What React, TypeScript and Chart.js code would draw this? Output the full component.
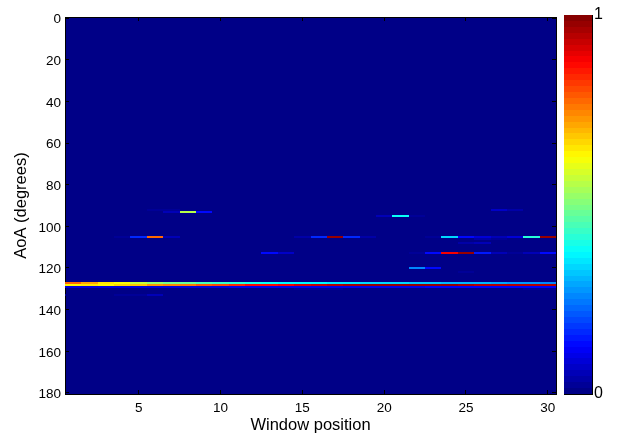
import React, { useEffect, useRef } from "react";
import { Chart, registerables } from "chart.js";

Chart.register(...registerables);

const xTickValues = [5, 10, 15, 20, 25, 30];
const yTickValues = [0, 20, 40, 60, 80, 100, 120, 140, 160, 180];
const colorbarLevels = 64;

// Strong lines: one value per window position 1..30
const aoa127 = [0.78, 0.71, 0.65, 0.62, 0.57, 0.52, 0.49, 0.47, 0.45, 0.43, 0.41, 0.4, 0.38, 0.37, 0.36, 0.36, 0.35, 0.35, 0.34, 0.34, 0.33, 0.32, 0.32, 0.31, 0.3, 0.3, 0.29, 0.28, 0.27, 0.26];
const aoa128 = [0.63, 0.65, 0.63, 0.66, 0.68, 0.72, 0.74, 0.76, 0.79, 0.8, 0.83, 0.86, 0.87, 0.89, 0.91, 0.93, 0.95, 0.96, 0.97, 0.97, 0.98, 0.98, 0.97, 0.97, 0.96, 0.95, 0.95, 0.95, 0.94, 0.94];
const aoa129 = [0.09, 0.09, 0.09, 0.09, 0.09, 0.09, 0.09, 0.09, 0.09, 0.09, 0.1, 0.1, 0.1, 0.1, 0.1, 0.1, 0.1, 0.1, 0.1, 0.1, 0.1, 0.1, 0.12, 0.12, 0.12, 0.12, 0.12, 0.12, 0.12, 0.12];

// Sparse rows: [window position, value]
const aoa92 = [[6, 0.02], [7, 0.02], [27, 0.07], [28, 0.04]];
const aoa93 = [[7, 0.05], [8, 0.56], [9, 0.13]];
const aoa95 = [[20, 0.05], [21, 0.39], [22, 0.02]];
const aoa105 = [[4, 0.02], [5, 0.17], [6, 0.77], [7, 0.05], [15, 0.04], [16, 0.17], [17, 0.98], [18, 0.16], [19, 0.04], [23, 0.03], [24, 0.33], [25, 0.13], [26, 0.08], [27, 0.05], [28, 0.08], [29, 0.41], [30, 0.98]];
const aoa106 = [[26, 0.04], [27, 0.03]];
const aoa108 = [[25, 0.04], [26, 0.05]];
const aoa113 = [[13, 0.14], [14, 0.07], [22, 0.03], [23, 0.13], [24, 0.88], [25, 0.98], [26, 0.15], [27, 0.06], [28, 0.03], [29, 0.05], [30, 0.13]];
const aoa120 = [[22, 0.26], [23, 0.13]];
const aoa122 = [[25, 0.03]];
const aoa130 = [[15, 0.03], [16, 0.03], [17, 0.02], [29, 0.03], [30, 0.03]];
const aoa133 = [[5, 0.03], [6, 0.05], [1, 0.01], [2, 0.01], [3, 0.01], [4, 0.02], [7, 0.01], [8, 0.01]];

const sparseRows: [number, number[][]][] = [
  [92, aoa92], [93, aoa93], [95, aoa95], [105, aoa105], [106, aoa106], [108, aoa108],
  [113, aoa113], [120, aoa120], [122, aoa122], [130, aoa130], [133, aoa133],
];
const lineRows: [number, number[]][] = [[127, aoa127], [128, aoa128], [129, aoa129]];

function jet(v: number): string {
  const level = Math.min(colorbarLevels - 1, Math.max(0, Math.floor(v * colorbarLevels)));
  const t = (level + 0.5) / colorbarLevels;
  const f = (c: number) => Math.round(255 * Math.max(0, Math.min(1, 1.5 - Math.abs(4 * t - c))));
  return `rgb(${f(3)},${f(2)},${f(1)})`;
}

const snap = (v: number) => Math.round(Math.round(v * 1000) / 1000);

const snapBars = {
  id: "snapBars",
  beforeDatasetDraw(chart: any, args: any) {
    for (const el of chart.getDatasetMeta(args.index).data) {
      const l = snap(el.x - el.width / 2);
      const r = snap(el.x + el.width / 2);
      el.x = (l + r) / 2;
      el.width = r - l;
      el.y = snap(el.y);
      el.base = snap(el.base);
    }
  },
};

const plotBackground = {
  id: "plotBackground",
  beforeDraw(chart: any) {
    const { ctx, chartArea: a } = chart;
    ctx.save();
    ctx.fillStyle = jet(0);
    ctx.fillRect(a.left, a.top, a.width, a.height);
    ctx.restore();
  },
};

const font = { family: "'Liberation Sans', Arial, sans-serif", size: 13.5 };
const titleFont = { family: "'Liberation Sans', Arial, sans-serif", size: 16.5, lineHeight: 0.9 };
const yTitleFont = { family: "'Liberation Sans', Arial, sans-serif", size: 16.5 };

export default function App() {
  const mainRef = useRef<HTMLCanvasElement>(null);
  const barRef = useRef<HTMLCanvasElement>(null);

  useEffect(() => {
    const cells: { x: number; y: number[] }[] = [];
    const colors: string[] = [];
    const add = (col: number, row: number, v: number) => {
      cells.push({ x: col, y: [row - 0.5, row + 0.5] });
      colors.push(jet(v));
    };
    sparseRows.forEach(([row, list]) => list.forEach(([col, v]) => add(col, row, v)));
    lineRows.forEach(([row, vals]) => vals.forEach((v, i) => add(i + 1, row, v)));

    const tickGrid = { drawOnChartArea: false, drawTicks: true, tickLength: -4, color: "#000", lineWidth: 1, offset: false };
    const border = { color: "#000", width: 1 };

    const main = new Chart(mainRef.current!, {
      type: "bar",
      data: {
        datasets: [{
          data: cells as any,
          backgroundColor: colors,
          barPercentage: 1,
          categoryPercentage: 1,
          inflateAmount: 0,
          borderWidth: 0,
        } as any],
      },
      plugins: [plotBackground, snapBars],
      options: {
        animation: false,
        responsive: false,
        maintainAspectRatio: false,
        layout: { padding: { top: 17, right: 66, left: 0, bottom: 0 } },
        plugins: { legend: { display: false }, tooltip: { enabled: false } },
        scales: {
          x: {
            type: "linear", position: "bottom", min: 0.5, max: 30.5, offset: false,
            afterBuildTicks: (s: any) => { s.ticks = xTickValues.map((value) => ({ value })); },
            afterFit: (s: any) => { s.height = 39; },
            grid: tickGrid, border,
            ticks: { font, color: "#000", padding: 10, maxRotation: 0, autoSkip: false },
            title: { display: true, text: "Window position", font: titleFont, color: "#000", padding: 0 },
          },
          y: {
            type: "linear", position: "left", reverse: true, min: -0.5, max: 180.5,
            afterBuildTicks: (s: any) => { s.ticks = yTickValues.map((value) => ({ value })); },
            afterFit: (s: any) => { s.width = 65; },
            grid: tickGrid, border,
            ticks: { font, color: "#000", padding: 8, autoSkip: false, labelOffset: 1.5 },
            title: { display: true, text: "AoA (degrees)", font: yTitleFont, color: "#000", padding: { top: 12, bottom: 0 } },
          },
          xTop: {
            type: "linear", position: "top", min: 0.5, max: 30.5, offset: false,
            afterBuildTicks: (s: any) => { s.ticks = xTickValues.map((value) => ({ value })); },
            afterFit: (s: any) => { s.height = 0; },
            grid: tickGrid, border, ticks: { display: false },
          },
          yRight: {
            type: "linear", position: "right", reverse: true, min: -0.5, max: 180.5,
            afterBuildTicks: (s: any) => { s.ticks = yTickValues.map((value) => ({ value })); },
            afterFit: (s: any) => { s.width = 0; },
            grid: tickGrid, border, ticks: { display: false },
          },
        } as any,
      },
    });

    const levels = Array.from({ length: colorbarLevels }, (_, i) => i);
    const bar = new Chart(barRef.current!, {
      type: "bar",
      data: {
        labels: ["jet"],
        datasets: levels.map((i) => ({
          data: [[i / colorbarLevels, (i + 1) / colorbarLevels]] as any,
          backgroundColor: jet((i + 0.5) / colorbarLevels),
          barPercentage: 1,
          categoryPercentage: 1,
          inflateAmount: 0,
          grouped: false,
          borderWidth: 0,
        })) as any,
      },
      plugins: [snapBars],
      options: {
        animation: false,
        responsive: false,
        maintainAspectRatio: false,
        layout: { padding: { top: 15, left: 6, right: 0, bottom: 39 } },
        plugins: { legend: { display: false }, tooltip: { enabled: false } },
        scales: {
          x: {
            type: "category", position: "bottom", offset: true,
            afterFit: (s: any) => { s.height = 0; },
            grid: { display: false }, border, ticks: { display: false },
          },
          xTop: {
            type: "category", position: "top", labels: ["jet"], offset: true,
            afterFit: (s: any) => { s.height = 0; },
            grid: { display: false }, border, ticks: { display: false },
          },
          yLeft: {
            type: "linear", position: "left", min: 0, max: 1,
            afterFit: (s: any) => { s.width = 0; },
            grid: { display: false }, border, ticks: { display: false },
          },
          y: {
            type: "linear", position: "right", min: 0, max: 1,
            afterBuildTicks: (s: any) => { s.ticks = [{ value: 0 }, { value: 1 }]; },
            afterFit: (s: any) => { s.width = 30; },
            grid: { drawOnChartArea: false, drawTicks: false }, border,
            ticks: { font: { ...font, size: 16 }, color: "#000", padding: 2, autoSkip: false },
          },
        } as any,
      },
    });

    return () => {
      main.destroy();
      bar.destroy();
    };
  }, []);

  return (
    <div style={{ position: "absolute", left: 0, top: 0, width: 622, height: 433 }}>
      <canvas ref={mainRef} width={622} height={433} style={{ position: "absolute", left: 0, top: 0 }} />
      <canvas ref={barRef} width={64} height={433} style={{ position: "absolute", left: 558, top: 0 }} />
    </div>
  );
}
